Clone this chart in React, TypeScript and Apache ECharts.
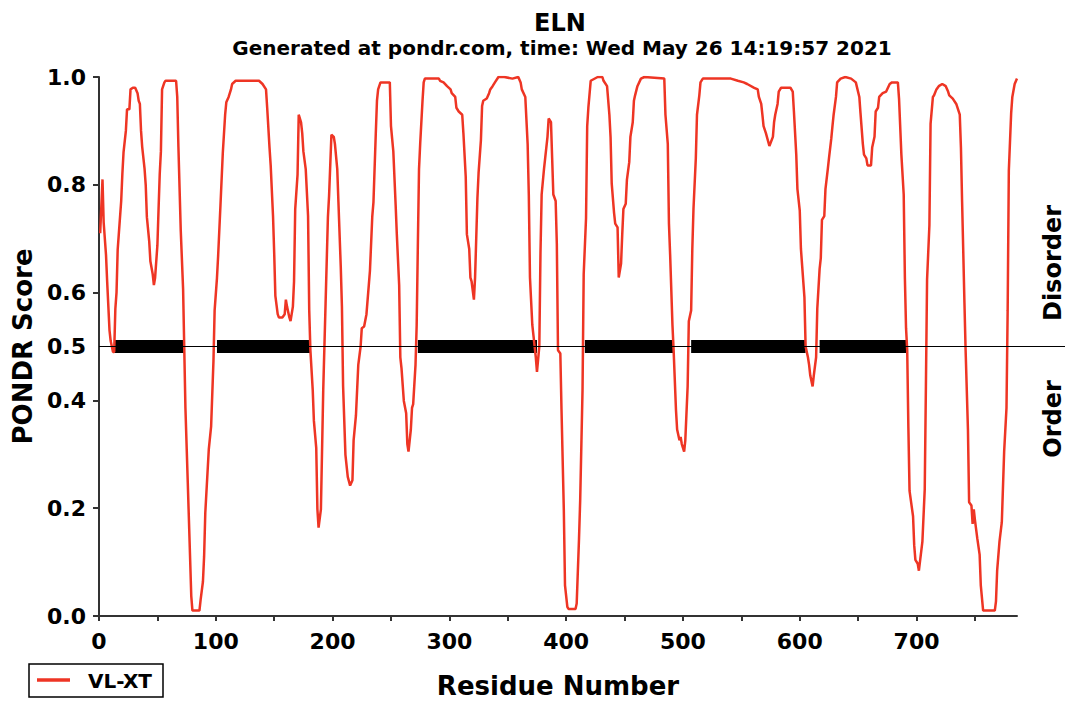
import React, { useEffect, useRef } from "react";
import * as echarts from "echarts";

const residues = [
  1, 2, 3, 4, 6, 7, 9, 10, 12, 13, 14, 15, 16, 17, 19, 20, 21, 23, 24, 26, 27, 29, 31, 33, 34, 35, 36, 37, 39, 40,
  41, 43, 44, 46, 47, 48, 50, 51, 52, 53, 54, 56, 57, 66, 67, 68, 70, 72, 74, 76, 77, 79, 80, 86, 87, 89, 90, 91, 94, 96,
  98, 99, 101, 102, 104, 106, 108, 109, 111, 113, 114, 117, 137, 140, 143, 144, 146, 147, 149, 150, 151, 153, 154, 157, 159, 160, 161, 163, 164, 166,
  167, 168, 170, 171, 173, 174, 175, 177, 179, 180, 181, 183, 184, 186, 187, 188, 190, 192, 194, 196, 197, 199, 201, 202, 204, 205, 207, 208, 209, 211,
  213, 215, 217, 218, 220, 222, 224, 225, 227, 229, 231, 232, 234, 235, 237, 238, 239, 241, 249, 250, 252, 254, 255, 257, 258, 259, 261, 263, 264, 265,
  267, 268, 269, 271, 272, 273, 274, 275, 277, 278, 279, 291, 292, 295, 298, 301, 302, 305, 306, 308, 311, 312, 314, 315, 317, 318, 319, 321, 322, 324,
  325, 327, 328, 329, 332, 334, 335, 337, 339, 342, 347, 354, 359, 361, 362, 365, 367, 368, 369, 371, 372, 374, 375, 377, 378, 379, 381, 382, 384, 385,
  387, 388, 389, 391, 392, 393, 395, 396, 398, 399, 401, 402, 408, 409, 411, 412, 414, 415, 417, 418, 419, 421, 427, 431, 432, 435, 437, 438, 439, 441,
  442, 444, 445, 447, 448, 449, 451, 452, 454, 455, 457, 458, 459, 461, 464, 467, 484, 485, 487, 488, 489, 491, 492, 494, 495, 497, 498, 499, 501, 502,
  504, 505, 507, 508, 509, 511, 512, 514, 515, 517, 538, 541, 547, 552, 555, 561, 564, 565, 567, 568, 569, 571, 574, 577, 578, 579, 581, 582, 584, 592,
  594, 595, 597, 598, 600, 601, 602, 604, 605, 607, 608, 609, 611, 612, 614, 615, 617, 618, 619, 621, 622, 624, 625, 627, 628, 629, 631, 632, 635, 639,
  644, 648, 651, 652, 654, 655, 657, 658, 661, 662, 664, 665, 667, 668, 671, 674, 677, 679, 684, 685, 687, 689, 690, 691, 692, 693, 694, 697, 698, 699,
  701, 702, 705, 707, 708, 709, 711, 712, 714, 715, 717, 719, 722, 725, 727, 728, 731, 734, 737, 738, 739, 741, 742, 744, 745, 747, 748, 749, 750, 752,
  754, 755, 757, 767, 768, 769, 771, 773, 775, 777, 778, 779, 781, 782, 784, 786,
];

const scores = [
  0.71, 0.76, 0.81, 0.73, 0.67, 0.62, 0.53, 0.51, 0.49, 0.49, 0.57, 0.6, 0.68, 0.71, 0.77, 0.82, 0.86, 0.9, 0.94, 0.94, 0.977, 0.98, 0.98, 0.97, 0.956, 0.95, 0.9, 0.87, 0.83, 0.8,
  0.74, 0.695, 0.658, 0.634, 0.614, 0.627, 0.688, 0.755, 0.82, 0.862, 0.977, 0.99, 0.993, 0.993, 0.963, 0.87, 0.715, 0.607, 0.386, 0.248, 0.178, 0.037, 0.01, 0.01, 0.03, 0.064, 0.111, 0.191, 0.309, 0.352,
  0.473, 0.567, 0.627, 0.668, 0.762, 0.859, 0.93, 0.953, 0.963, 0.977, 0.987, 0.993, 0.993, 0.987, 0.977, 0.943, 0.869, 0.836, 0.742, 0.674, 0.594, 0.56, 0.554, 0.554, 0.56, 0.587, 0.574, 0.554, 0.547, 0.574,
  0.621, 0.755, 0.819, 0.93, 0.916, 0.896, 0.862, 0.829, 0.742, 0.567, 0.493, 0.419, 0.362, 0.312, 0.198, 0.164, 0.198, 0.42, 0.58, 0.74, 0.78, 0.893, 0.889, 0.876, 0.829, 0.768, 0.648, 0.574, 0.426, 0.299,
  0.258, 0.242, 0.252, 0.326, 0.372, 0.466, 0.5, 0.534, 0.537, 0.56, 0.614, 0.641, 0.742, 0.768, 0.896, 0.956, 0.977, 0.99, 0.99, 0.909, 0.862, 0.762, 0.708, 0.614, 0.48, 0.46, 0.399, 0.376, 0.319, 0.305,
  0.346, 0.386, 0.393, 0.466, 0.54, 0.688, 0.829, 0.876, 0.956, 0.99, 0.997, 0.997, 0.993, 0.99, 0.983, 0.977, 0.97, 0.963, 0.943, 0.936, 0.93, 0.896, 0.815, 0.708, 0.681, 0.628, 0.621, 0.587, 0.628, 0.775,
  0.822, 0.883, 0.946, 0.956, 0.96, 0.97, 0.977, 0.983, 0.99, 1.0, 1.0, 0.997, 1.0, 0.99, 0.977, 0.963, 0.876, 0.782, 0.628, 0.54, 0.52, 0.48, 0.453, 0.5, 0.674, 0.782, 0.829, 0.849, 0.889, 0.923,
  0.916, 0.849, 0.782, 0.77, 0.69, 0.493, 0.487, 0.383, 0.195, 0.057, 0.017, 0.013, 0.013, 0.023, 0.144, 0.215, 0.419, 0.634, 0.738, 0.909, 0.943, 0.993, 1.0, 1.0, 0.993, 0.983, 0.93, 0.889, 0.802, 0.748,
  0.728, 0.721, 0.628, 0.654, 0.708, 0.755, 0.765, 0.809, 0.842, 0.889, 0.916, 0.956, 0.966, 0.983, 0.997, 1.0, 0.997, 0.93, 0.876, 0.728, 0.671, 0.54, 0.493, 0.383, 0.346, 0.326, 0.332, 0.319, 0.305, 0.326,
  0.426, 0.547, 0.567, 0.681, 0.755, 0.849, 0.93, 0.966, 0.99, 0.997, 0.997, 0.997, 0.993, 0.99, 0.987, 0.98, 0.977, 0.963, 0.95, 0.93, 0.909, 0.896, 0.872, 0.889, 0.916, 0.93, 0.95, 0.973, 0.98, 0.98,
  0.973, 0.936, 0.856, 0.792, 0.752, 0.681, 0.651, 0.591, 0.5, 0.48, 0.466, 0.446, 0.426, 0.446, 0.48, 0.57, 0.644, 0.664, 0.735, 0.742, 0.792, 0.829, 0.849, 0.886, 0.909, 0.93, 0.963, 0.99, 0.997, 1.0,
  0.997, 0.99, 0.963, 0.933, 0.876, 0.856, 0.849, 0.836, 0.836, 0.869, 0.889, 0.936, 0.943, 0.963, 0.97, 0.973, 0.987, 0.99, 0.99, 0.96, 0.856, 0.782, 0.628, 0.534, 0.493, 0.349, 0.232, 0.185, 0.131, 0.104,
  0.097, 0.084, 0.138, 0.235, 0.426, 0.624, 0.725, 0.913, 0.963, 0.966, 0.977, 0.983, 0.987, 0.983, 0.973, 0.966, 0.96, 0.95, 0.93, 0.869, 0.768, 0.581, 0.493, 0.346, 0.211, 0.205, 0.171, 0.198, 0.178, 0.144,
  0.114, 0.057, 0.01, 0.01, 0.027, 0.084, 0.138, 0.174, 0.305, 0.386, 0.567, 0.826, 0.933, 0.963, 0.987, 0.997,
];

// Predicted disordered regions (start, end residue), drawn as black bars on the 0.5 line
const disorderedRegions = [
  [13, 73],
  [101, 181],
  [273, 375],
  [416, 492],
  [507, 605],
  [617, 692],
];

const xTickLabels = [0, 100, 200, 300, 400, 500, 600, 700];
const xTicks = [0, 50, 100, 150, 200, 250, 300, 350, 400, 450, 500, 550, 600, 650, 700, 750];
const yTickLabels = [0, 0.2, 0.4, 0.5, 0.6, 0.8, 1.0];
const yTicks = [0, 0.2, 0.4, 0.6, 0.8, 1.0];
const threshold = 0.5;
const sequenceLength = 786;

const FONT = "DejaVu Sans";
const RED = "#ee3524";
const AXIS = "#333";

export default function App() {
  const ref = useRef<HTMLDivElement>(null);

  useEffect(() => {
    if (!ref.current) return;
    const chart = echarts.init(ref.current, undefined, { renderer: "svg" });
    const labelStyle = { fontFamily: FONT, fontWeight: "bold" as const, fontSize: 22, color: "#000" };
    const nameStyle = { fontFamily: FONT, fontWeight: "bold" as const, fontSize: 26, color: "#000" };

    chart.setOption({
      animation: false,
      backgroundColor: "#fff",
      grid: { left: 99, right: 52, top: 77, bottom: 84, containLabel: false },
      xAxis: {
        type: "value",
        min: 0,
        max: sequenceLength,
        interval: 50,
        splitLine: { show: false },
        axisLine: { show: true, onZero: false, lineStyle: { color: AXIS, width: 2 } },
        axisTick: { show: true, length: 5, customValues: xTicks, lineStyle: { color: AXIS, width: 2 } },
        axisLabel: { customValues: xTickLabels, margin: 14, ...labelStyle },
        name: "Residue Number",
        nameLocation: "middle",
        nameGap: 57,
        nameTextStyle: nameStyle,
      },
      yAxis: {
        type: "value",
        min: 0,
        max: 1,
        interval: 0.1,
        splitLine: { show: false },
        axisLine: { show: true, onZero: false, lineStyle: { color: AXIS, width: 2 } },
        axisTick: { show: true, length: 6, customValues: yTicks, lineStyle: { color: AXIS, width: 2 } },
        axisLabel: {
          customValues: yTickLabels,
          margin: 13,
          formatter: (v: number) => v.toFixed(1),
          ...labelStyle,
        },
        name: "PONDR Score",
        nameLocation: "middle",
        nameGap: 58,
        nameTextStyle: nameStyle,
      },
      series: [
        {
          type: "line",
          name: "threshold",
          data: [],
          z: 1,
          silent: true,
          markLine: {
            silent: true,
            symbol: "none",
            label: { show: false },
            lineStyle: { color: "#000", width: 1, type: "solid" },
            data: [{ yAxis: threshold }],
          },
          markArea: {
            silent: true,
            itemStyle: { color: "#000" },
            data: disorderedRegions.map(([a, b]) => [
              { xAxis: a, yAxis: threshold - 0.012 },
              { xAxis: b, yAxis: threshold + 0.012 },
            ]),
          },
        },
        {
          type: "line",
          name: "VL-XT",
          z: 3,
          symbol: "none",
          showSymbol: false,
          data: residues.map((r, i) => [r, scores[i]]),
          lineStyle: { color: RED, width: 2.5 },
        },
      ],
    });

    const [xRight, yThr] = chart.convertToPixel({ gridIndex: 0 }, [sequenceLength, threshold]) as number[];

    chart.setOption({
      graphic: [
        {
          type: "line",
          shape: { x1: xRight, y1: yThr, x2: 1065, y2: yThr },
          style: { stroke: "#000", lineWidth: 1 },
          silent: true,
        },
        {
          type: "text",
          x: 560,
          y: 23,
          style: { text: "ELN", fontFamily: FONT, fontWeight: "bold", fontSize: 24, fill: "#000", align: "center", verticalAlign: "middle" },
        },
        {
          type: "text",
          x: 562,
          y: 48,
          style: {
            text: "Generated at pondr.com, time: Wed May 26 14:19:57 2021",
            fontFamily: FONT,
            fontWeight: "bold",
            fontSize: 20,
            fill: "#000",
            align: "center",
            verticalAlign: "middle",
          },
        },
        {
          type: "text",
          x: 1053,
          y: 263,
          rotation: Math.PI / 2,
          style: { text: "Disorder", fontFamily: FONT, fontWeight: "bold", fontSize: 24, fill: "#000", align: "center", verticalAlign: "middle" },
        },
        {
          type: "text",
          x: 1053,
          y: 419,
          rotation: Math.PI / 2,
          style: { text: "Order", fontFamily: FONT, fontWeight: "bold", fontSize: 24, fill: "#000", align: "center", verticalAlign: "middle" },
        },
        {
          type: "rect",
          shape: { x: 29, y: 664, width: 134, height: 33 },
          style: { fill: "#fff", stroke: "#000", lineWidth: 1.5 },
        },
        {
          type: "line",
          shape: { x1: 37, y1: 680, x2: 70, y2: 680 },
          style: { stroke: RED, lineWidth: 3.5 },
        },
        {
          type: "text",
          x: 88,
          y: 681,
          style: { text: "VL-XT", fontFamily: FONT, fontWeight: "bold", fontSize: 20, fill: "#000", align: "left", verticalAlign: "middle" },
        },
      ],
    });

    return () => chart.dispose();
  }, []);

  return (
    <div
      ref={ref}
      style={{ position: "fixed", left: 0, top: 0, width: 1069, height: 704, background: "#fff" }}
    />
  );
}
